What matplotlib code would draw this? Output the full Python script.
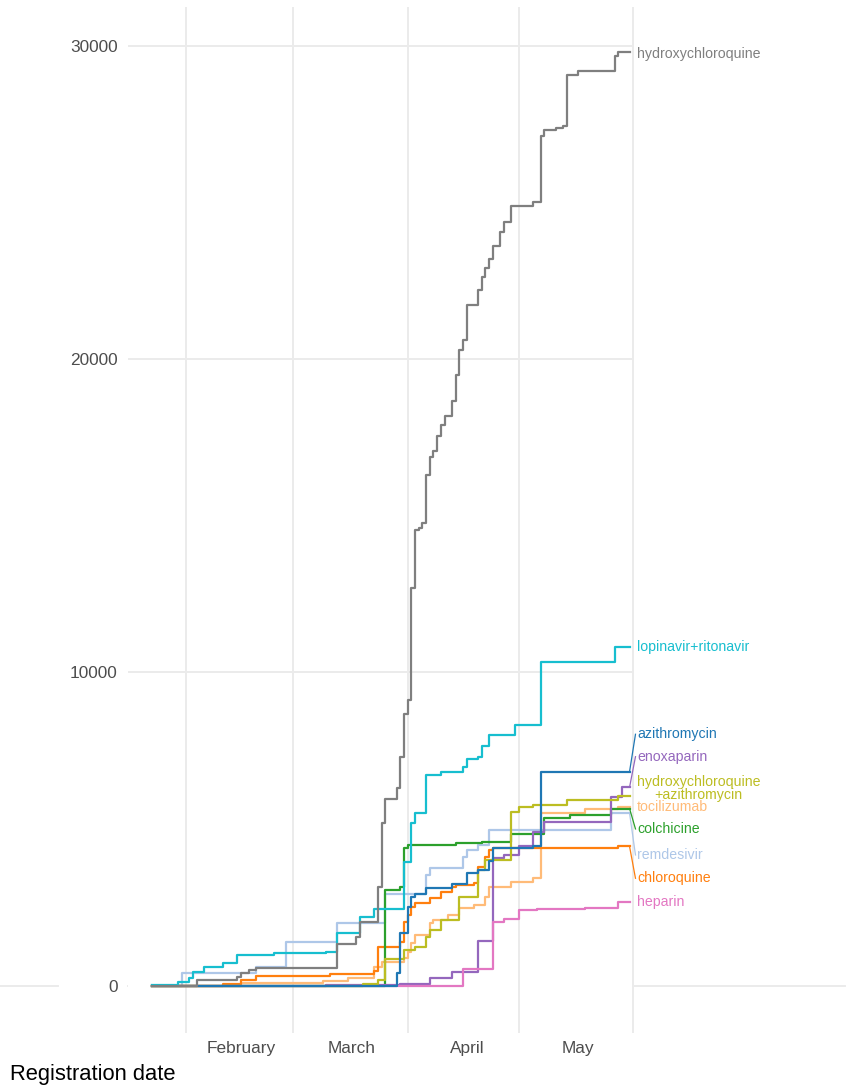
import matplotlib
matplotlib.use("Agg")
import matplotlib.pyplot as plt
import matplotlib.dates as mdates
import pandas as pd
from matplotlib.lines import Line2D
from matplotlib.transforms import blended_transform_factory

plt.rcParams['font.family'] = ['Liberation Sans', 'DejaVu Sans']

######### Data: cumulative patients planned by registration date #########

START = '2020-01-23'
END = '2020-05-31'

hcq_dates = [START, '2020-02-04', '2020-02-15', '2020-02-16', '2020-02-18', '2020-02-20',
             '2020-03-13', '2020-03-18', '2020-03-19', '2020-03-24', '2020-03-25', '2020-03-26',
             '2020-03-29', '2020-03-30', '2020-03-31', '2020-04-01', '2020-04-02', '2020-04-03',
             '2020-04-04', '2020-04-05', '2020-04-06', '2020-04-07', '2020-04-08', '2020-04-09',
             '2020-04-10', '2020-04-11', '2020-04-13', '2020-04-14', '2020-04-15', '2020-04-16',
             '2020-04-17', '2020-04-20', '2020-04-21', '2020-04-22', '2020-04-23', '2020-04-24',
             '2020-04-26', '2020-04-27', '2020-04-29', '2020-05-05', '2020-05-07', '2020-05-08',
             '2020-05-11', '2020-05-13', '2020-05-14', '2020-05-17', '2020-05-27', '2020-05-28']
hcq_n = [0, 190, 300, 425, 510, 565,
         1340, 1575, 2050, 3170, 5190, 5950,
         6310, 7320, 8680, 9130, 12700, 14560,
         14610, 14770, 16290, 16870, 17050, 17530,
         17900, 18170, 18650, 19500, 20300, 20600,
         21720, 22200, 22600, 22900, 23200, 23600,
         24050, 24370, 24880, 25010, 27110, 27300,
         27370, 27430, 29060, 29190, 29650, 29780]

lop_dates = [START, '2020-01-30', '2020-02-02', '2020-02-03', '2020-02-06', '2020-02-11',
             '2020-02-15', '2020-02-25', '2020-03-10', '2020-03-13', '2020-03-19', '2020-03-23',
             '2020-03-31', '2020-04-02', '2020-04-03', '2020-04-06', '2020-04-10', '2020-04-16',
             '2020-04-17', '2020-04-20', '2020-04-21', '2020-04-23', '2020-04-30', '2020-05-07',
             '2020-05-27']
lop_n = [30, 140, 245, 455, 615, 745,
         990, 1040, 1095, 1700, 2210, 2450,
         3940, 5190, 5510, 6740, 6820, 7000,
         7240, 7320, 7660, 8000, 8310, 10320,
         10810]

azi_dates = [START, '2020-03-29', '2020-03-30', '2020-04-01', '2020-04-02', '2020-04-03',
             '2020-04-06', '2020-04-13', '2020-04-17', '2020-04-20', '2020-04-23', '2020-04-24',
             '2020-05-05', '2020-05-07']
azi_n = [0, 400, 1680, 2530, 2850, 2950,
         3120, 3250, 3600, 3700, 4000, 4400,
         4450, 6840]

enox_dates = [START, '2020-03-10', '2020-03-30', '2020-04-07', '2020-04-13', '2020-04-20',
              '2020-04-24', '2020-04-27', '2020-05-01', '2020-05-05', '2020-05-08', '2020-05-26',
              '2020-05-29']
enox_n = [0, 20, 50, 245, 455, 1435,
          4075, 4180, 4450, 4925, 5245, 6040,
          6340]

hcqazi_dates = [START, '2020-03-20', '2020-03-24', '2020-03-26', '2020-03-31', '2020-04-03',
                '2020-04-06', '2020-04-07', '2020-04-10', '2020-04-15', '2020-04-20', '2020-04-22',
                '2020-04-29', '2020-05-01', '2020-05-05', '2020-05-14', '2020-05-28']
hcqazi_n = [0, 60, 200, 850, 1150, 1255,
            1570, 1790, 2100, 2850, 3700, 4020,
            5560, 5720, 5780, 5940, 6070]

toci_dates = [START, '2020-02-16', '2020-03-09', '2020-03-16', '2020-03-23', '2020-03-25',
              '2020-03-31', '2020-04-01', '2020-04-02', '2020-04-03', '2020-04-07', '2020-04-08',
              '2020-04-12', '2020-04-15', '2020-04-19', '2020-04-22', '2020-04-23', '2020-04-29',
              '2020-05-05', '2020-05-07', '2020-05-19', '2020-05-28']
toci_n = [0, 100, 170, 250, 600, 780,
          885, 1095, 1360, 1630, 2000, 2100,
          2270, 2480, 2585, 2850, 3170, 3330,
          3440, 5510, 5640, 5720]

colch_dates = [START, '2020-03-26', '2020-03-30', '2020-03-31', '2020-04-01', '2020-04-14',
               '2020-04-21', '2020-04-29', '2020-05-08', '2020-05-15', '2020-05-26']
colch_n = [0, 3050, 3150, 4390, 4500, 4550,
           4600, 4850, 5350, 5460, 5660]

remd_dates = [START, '2020-01-31', '2020-02-20', '2020-02-28', '2020-03-13', '2020-03-26',
              '2020-04-06', '2020-04-07', '2020-04-16', '2020-04-17', '2020-04-20', '2020-04-23',
              '2020-05-26']
remd_n = [0, 405, 595, 1390, 2020, 2935,
          3540, 3750, 4100, 4340, 4500, 4980,
          5510]

cq_dates = [START, '2020-02-11', '2020-02-16', '2020-02-20', '2020-03-11', '2020-03-23',
            '2020-03-24', '2020-03-30', '2020-03-31', '2020-04-01', '2020-04-02', '2020-04-03',
            '2020-04-07', '2020-04-10', '2020-04-13', '2020-04-14', '2020-04-19', '2020-04-20',
            '2020-04-22', '2020-04-23', '2020-04-24', '2020-05-28']
cq_n = [0, 60, 200, 330, 380, 490,
        1235, 1415, 2050, 2270, 2530, 2650,
        2800, 3010, 3150, 3220, 3280, 3810,
        4130, 4340, 4400, 4450]

hep_dates = [START, '2020-04-16', '2020-04-24', '2020-04-27', '2020-05-01', '2020-05-06',
             '2020-05-19', '2020-05-28']
hep_n = [0, 540, 2030, 2140, 2425, 2460, 2500, 2670]

drugs = ['remdesivir', 'tocilizumab', 'chloroquine', 'colchicine', 'enoxaparin', 'heparin',
         'hydroxychloroquine\n+azithromycin', 'azithromycin', 'lopinavir+ritonavir',
         'hydroxychloroquine']
series = [(remd_dates, remd_n), (toci_dates, toci_n), (cq_dates, cq_n),
          (colch_dates, colch_n), (enox_dates, enox_n), (hep_dates, hep_n),
          (hcqazi_dates, hcqazi_n), (azi_dates, azi_n), (lop_dates, lop_n),
          (hcq_dates, hcq_n)]

######### Colors and label placement (repelled labels) #########

colors = {'hydroxychloroquine': '#7f7f7f', 'lopinavir+ritonavir': '#17becf',
          'azithromycin': '#1f77b4', 'enoxaparin': '#9467bd',
          'hydroxychloroquine\n+azithromycin': '#bcbd22', 'tocilizumab': '#ffbb78',
          'colchicine': '#2ca02c', 'remdesivir': '#aec7e8', 'chloroquine': '#ff7f0e',
          'heparin': '#e377c2'}
label_y = {'hydroxychloroquine': 29720, 'lopinavir+ritonavir': 10810,
           'azithromycin': 8030, 'enoxaparin': 7315,
           'hydroxychloroquine\n+azithromycin': 6305, 'tocilizumab': 5720,
           'colchicine': 5010, 'remdesivir': 4180, 'chloroquine': 3435,
           'heparin': 2670}

######### Figure #########

W, H = 849, 1085
fig = plt.figure(figsize=(W / 100, H / 100), dpi=100)
ax = fig.add_axes([128.3 / W, 1 - 1032.7 / H, (634 - 128.3) / W, (1032.7 - 6.7) / H])

grid_c = '#ebebeb'
feb1 = mdates.date2num(pd.Timestamp('2020-02-01'))
ax.set_xlim(feb1 - 15.5, feb1 + 121.2)
ax.set_ylim(-1490, 31238)

month_starts = pd.to_datetime(['2020-02-01', '2020-03-01', '2020-04-01', '2020-05-01', '2020-06-01'])
for m in month_starts:
    ax.axvline(m, color=grid_c, lw=1.4, zorder=0)
for v in [10000, 20000, 30000]:
    ax.axhline(v, color=grid_c, lw=1.4, zorder=0)

# zero line runs across the whole figure
tr = blended_transform_factory(fig.transFigure, ax.transData)
fig.add_artist(Line2D([0, 58 / W], [0, 0], transform=tr, color=grid_c, lw=1.4, zorder=0))
fig.add_artist(Line2D([128.3 / W, 845 / W], [0, 0], transform=tr, color=grid_c, lw=1.4, zorder=0))

end = pd.Timestamp(END)
end_num = mdates.date2num(end)
for name, (d, n) in zip(drugs, series):
    dd = list(pd.to_datetime(d)) + [end]
    nn = list(n) + [n[-1]]
    ax.step(dd, nn, where='post', color=colors[name], lw=1.6, zorder=3)
    ly = label_y[name]
    if abs(ly - n[-1]) > 300:
        ax.plot([end_num, end_num + 1.6], [n[-1], ly], color=colors[name], lw=0.9,
                clip_on=False, zorder=3)
    ax.text(end_num + 2.0, ly, name, color=colors[name], fontsize=10.2, va='center',
            ha='left', multialignment='center', linespacing=0.85, clip_on=False)

for s in ax.spines.values():
    s.set_visible(False)

ax.set_yticks([0, 10000, 20000, 30000])
ax.set_yticklabels(['0', '10000', '20000', '30000'])
mid_months = pd.to_datetime(['2020-02-16', '2020-03-17', '2020-04-17', '2020-05-17'])
ax.set_xticks(mdates.date2num(mid_months))
ax.set_xticklabels(['February', 'March', 'April', 'May'])
ax.tick_params(axis='y', length=0, pad=7.6, labelsize=12.4, labelcolor='#4d4d4d')
ax.tick_params(axis='x', length=0, pad=6, labelsize=12.4, labelcolor='#4d4d4d')

fig.text(10 / W, 1 - 1080 / H, 'Registration date', fontsize=15.8, color='black',
         va='baseline', ha='left')

fig.savefig('out.png', dpi=100)
